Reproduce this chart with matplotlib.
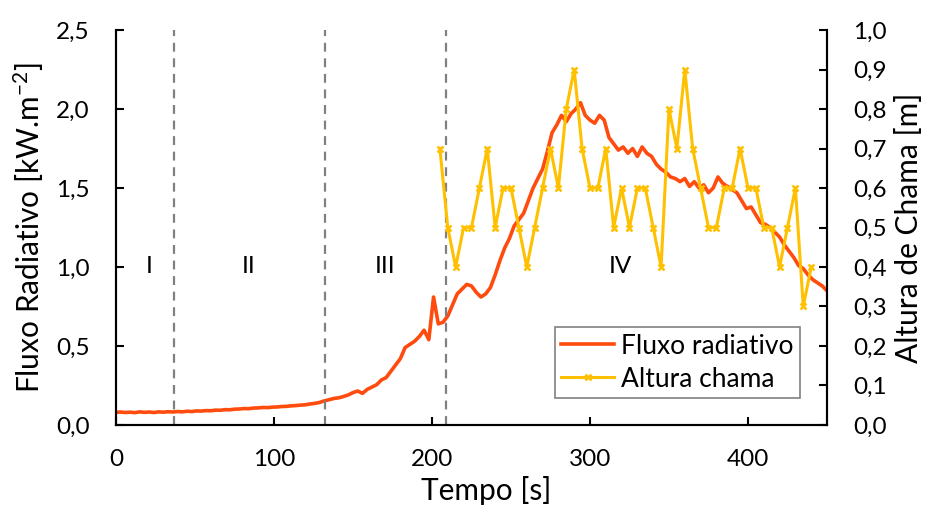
import numpy as np
import matplotlib
matplotlib.use("Agg")
import matplotlib.pyplot as plt

plt.rcParams['font.family'] = ['Lato', 'DejaVu Sans']

# Radiative flux, sampled every 3 s (kW/m2)
flux_time = np.arange(0, 451, 3)
flux = [
    0.080, 0.082, 0.079, 0.081, 0.078, 0.083, 0.080, 0.082, 0.079, 0.083,
    0.081, 0.084, 0.082, 0.085, 0.083, 0.087, 0.085, 0.089, 0.088, 0.091,
    0.090, 0.094, 0.093, 0.097, 0.096, 0.100, 0.101, 0.104, 0.103, 0.107,
    0.108, 0.111, 0.110, 0.113, 0.114, 0.117, 0.118, 0.121, 0.123, 0.126,
    0.128, 0.133, 0.137, 0.143, 0.153, 0.160, 0.168, 0.172, 0.180, 0.190,
    0.205, 0.215, 0.200, 0.225, 0.240, 0.255, 0.285, 0.300, 0.340, 0.380,
    0.420, 0.490, 0.510, 0.530, 0.560, 0.600, 0.540, 0.810, 0.640, 0.650,
    0.690, 0.760, 0.830, 0.860, 0.890, 0.880, 0.840, 0.810, 0.830, 0.870,
    0.950, 1.040, 1.120, 1.180, 1.260, 1.300, 1.340, 1.420, 1.500, 1.560,
    1.620, 1.730, 1.850, 1.900, 1.960, 1.920, 1.970, 2.000, 2.040, 1.960,
    1.930, 1.910, 1.960, 1.930, 1.820, 1.780, 1.740, 1.760, 1.720, 1.750,
    1.700, 1.760, 1.720, 1.700, 1.650, 1.620, 1.600, 1.570, 1.560, 1.540,
    1.560, 1.510, 1.540, 1.500, 1.520, 1.470, 1.500, 1.570, 1.530, 1.510,
    1.490, 1.470, 1.420, 1.370, 1.380, 1.330, 1.280, 1.270, 1.250, 1.220,
    1.190, 1.140, 1.100, 1.060, 1.010, 0.990, 0.950, 0.920, 0.900, 0.880,
    0.850,
]

# Flame height, every 5 s (m)
flame_time = np.arange(205, 441, 5)
flame = [
    0.7, 0.5, 0.4, 0.5, 0.5, 0.6, 0.7, 0.5, 0.6, 0.6,
    0.5, 0.4, 0.5, 0.6, 0.7, 0.6, 0.8, 0.9, 0.7, 0.6,
    0.6, 0.7, 0.5, 0.6, 0.5, 0.6, 0.6, 0.5, 0.4, 0.8,
    0.7, 0.9, 0.7, 0.6, 0.5, 0.5, 0.6, 0.6, 0.7, 0.6,
    0.6, 0.5, 0.5, 0.4, 0.5, 0.6, 0.3, 0.4,
]

# Phase boundaries and labels
phase_bounds = [37, 132, 209]
phase_labels = ['I', 'II', 'III', 'IV']
phase_label_x = [21, 84, 170, 319]

fig = plt.figure(figsize=(9.39, 5.15), dpi=100)
ax = fig.add_axes([0.1235, 0.1748, 0.7572, 0.7669])
ax2 = ax.twinx()

l1, = ax.plot(flux_time, flux, color='#FF4B0E', lw=2.6, label='Fluxo radiativo')
l2, = ax2.plot(flame_time, flame, color='#FFC000', lw=2.2, marker='x',
               markersize=5, mew=1.8, label='Altura chama')

for xb in phase_bounds:
    ax.axvline(xb, color='#808080', lw=1.6, dashes=(4, 3))
for lab, xl in zip(phase_labels, phase_label_x):
    ax.text(xl, 1.0, lab, ha='center', va='center', fontsize=17.5)

ax.set_xlim(0, 450)
ax.set_ylim(0, 2.5)
ax2.set_ylim(0, 1.0)
ax.set_xticks([0, 100, 200, 300, 400])
lt = np.arange(0, 2.51, 0.5)
ax.set_yticks(lt)
ax.set_yticklabels([f"{v:.1f}".replace('.', ',') for v in lt])
rt = np.arange(0, 1.01, 0.1)
ax2.set_yticks(rt)
ax2.set_yticklabels([f"{v:.1f}".replace('.', ',') for v in rt])

for a in (ax, ax2):
    a.spines['top'].set_visible(False)
    for s in ('left', 'right', 'bottom'):
        a.spines[s].set_linewidth(1.5)
    a.tick_params(direction='in', length=6, width=1.5, labelsize=17.5)
ax.tick_params(axis='x', pad=17)
ax.tick_params(axis='y', pad=19)
ax2.tick_params(axis='y', pad=19)

ax.set_xlabel('Tempo [s]', fontsize=21.5)
ax.xaxis.set_label_coords(0.52, -0.13)
ax.set_ylabel(r'Fluxo Radiativo [kW.m$\mathregular{^{-2}}$]', fontsize=21.5, labelpad=7)
ax2.set_ylabel('Altura de Chama [m]', fontsize=21.5, labelpad=6)

leg = ax2.legend([l1, l2], ['Fluxo radiativo', 'Altura chama'],
                 loc='upper left', bbox_to_anchor=(0.617, 0.248),
                 fontsize=19, numpoints=1, fancybox=False, framealpha=1,
                 handlelength=2.0, handletextpad=0.25, borderpad=0.25,
                 labelspacing=0.3, borderaxespad=0)
leg.get_frame().set_edgecolor('#808080')
leg.get_frame().set_linewidth(1.2)

fig.savefig('out.png', dpi=100)
